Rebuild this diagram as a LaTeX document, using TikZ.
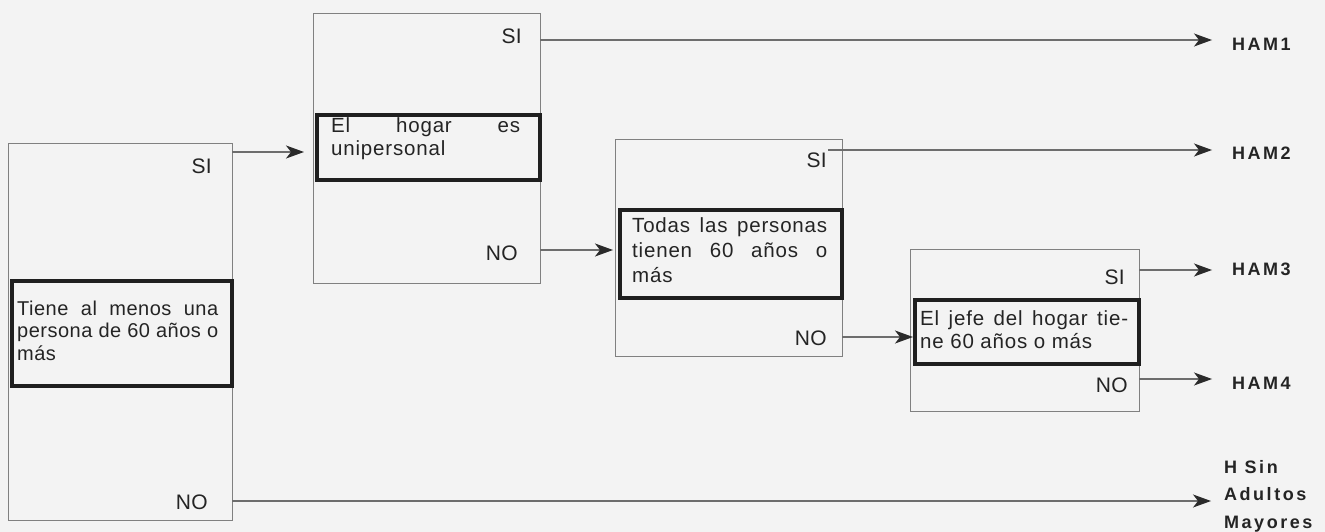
\documentclass[tikz,border=0pt]{standalone}
\usepackage{fontspec}
\setmainfont{Liberation Sans}
\newfontfamily\boxfont[LetterSpace=4]{Liberation Sans}
\newfontfamily\boxfontb[LetterSpace=2.5]{Liberation Sans}
\newfontfamily\lblfont[LetterSpace=2]{Liberation Sans}
\newfontfamily\hamfont[LetterSpace=14]{Liberation Sans}
\usetikzlibrary{arrows.meta}
\definecolor{ink}{HTML}{242424}
\definecolor{thin}{HTML}{808080}
\definecolor{tipc}{HTML}{2A2A2A}
\definecolor{paper}{HTML}{F3F3F3}
\newcommand{\jl}[2]{\makebox[#1][s]{#2}}
\tikzset{
  outerbox/.style={draw=thin, line width=1.1pt, inner sep=0pt, anchor=north west},
  innerbox/.style={draw=black!88, line width=4pt, inner sep=0pt, anchor=north west},
  boxtext/.style={font=\boxfont\fontsize{20.5}{23.5}\selectfont, text=ink, align=left, anchor=north west, inner sep=0pt},
  lbl/.style={font=\lblfont\fontsize{21}{22}\selectfont, text=ink, inner sep=0pt, anchor=east},
  ham/.style={font=\hamfont\bfseries\fontsize{18}{27.5}\selectfont, text=ink, inner sep=0pt, anchor=west, align=left},
  conn/.style={draw=thin!85!black, line width=1.1pt, -{Stealth[length=18pt,width=13pt,inset=5pt,color=tipc]}},
}
\begin{document}
\begin{tikzpicture}[x=1pt,y=-1pt]
\useasboundingbox (0,0) rectangle (1325,532);
\fill[paper] (0,0) rectangle (1325,532);
% outer boxes
\node[outerbox, minimum width=224pt, minimum height=377pt] (o1) at (8,143) {};
\node[outerbox, minimum width=227pt, minimum height=270pt] (o2) at (313,13) {};
\node[outerbox, minimum width=227pt, minimum height=217pt] (o3) at (615,139) {};
\node[outerbox, minimum width=229pt, minimum height=162pt] (o4) at (910,249) {};
% inner thick boxes
\node[innerbox, minimum width=220pt, minimum height=105pt] (i1) at (10,279) {};
\node[innerbox, minimum width=223pt, minimum height=65pt] (i2) at (315,113) {};
\node[innerbox, minimum width=222pt, minimum height=88pt] (i3) at (618,208) {};
\node[innerbox, minimum width=224pt, minimum height=64pt] (i4) at (913,298) {};
% box texts
\node[boxtext, font=\boxfontb\fontsize{20}{22.5}\selectfont] (t1) at (17,300.5)
  {\jl{201pt}{Tiene al menos una}\\\jl{201pt}{persona de 60 años o}\\más};
\node[boxtext] (t2) at (331,117.3)
  {\jl{189pt}{El hogar es}\\unipersonal};
\node[boxtext, font=\boxfont\fontsize{20.5}{25}\selectfont] (t3) at (632,217.3)
  {\jl{195pt}{Todas las personas}\\\jl{195pt}{tienen 60 años o}\\más};
\node[boxtext] (t4) at (920,310.3)
  {\jl{208pt}{El jefe del hogar tie-}\\ne 60 años o más};
% SI / NO labels
\node[lbl] (si1) at (212,166) {SI};
\node[lbl] (no1) at (208,502) {NO};
\node[lbl] (si2) at (522,36) {SI};
\node[lbl] (no2) at (518,253) {NO};
\node[lbl] (si3) at (827,160) {SI};
\node[lbl] (no3) at (827,338) {NO};
\node[lbl] (si4) at (1125,277) {SI};
\node[lbl] (no4) at (1128,385) {NO};
% result labels
\node[ham] (ham1) at (1232,44) {HAM1};
\node[ham] (ham2) at (1232,153) {HAM2};
\node[ham] (ham3) at (1232,269) {HAM3};
\node[ham] (ham4) at (1232,383) {HAM4};
\node[ham] (hsam) at (1224,496) {H Sin\\Adultos\\Mayores};
% connector start points
\coordinate (s1) at (232,152);
\coordinate (n1) at (232,501);
\coordinate (s2) at (540,40);
\coordinate (n2) at (540,250);
\coordinate (s3) at (828,150);
\coordinate (n3) at (842,337);
\coordinate (s4) at (1139,270);
\coordinate (n4) at (1139,379);
% connectors
\draw[conn, shorten >=11pt] (s1) -- (s1 -| i2.west);
\draw[conn, shorten >=5pt] (n2) -- (n2 -| i3.west);
\draw[conn, shorten >=0pt] (n3) -- (n3 -| i4.west);
\draw[conn, shorten >=20pt] (s2) -- (s2 -| ham1.west);
\draw[conn, shorten >=20pt] (s3) -- (s3 -| ham2.west);
\draw[conn, shorten >=20pt] (s4) -- (s4 -| ham3.west);
\draw[conn, shorten >=20pt] (n4) -- (n4 -| ham4.west);
\draw[conn, shorten >=13pt] (n1) -- (n1 -| hsam.west);
\end{tikzpicture}
\end{document}
